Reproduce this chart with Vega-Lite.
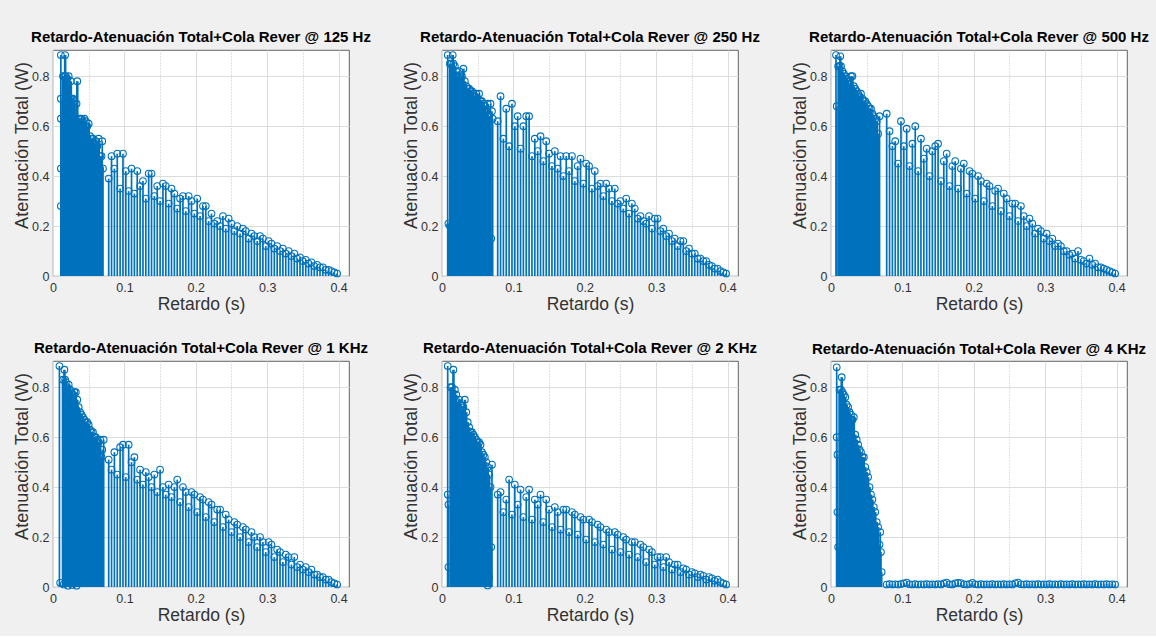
{
"$schema":"https://vega.github.io/schema/vega-lite/v6.json",
"background":"#f0f0f0",
"autosize":{"type":"pad"},
"padding":{"left":12,"top":30,"right":6,"bottom":12},
"config":{
"font":"Liberation Sans",
"view":{"fill":"white","stroke":"#3c3c3c","strokeWidth":0.8},
"title":{"fontSize":15,"fontWeight":"bold","color":"#000000","offset":4,"anchor":"middle","font":"Liberation Sans"},
"axisX":{"values":[0,0.025,0.05,0.075,0.1,0.125,0.15,0.175,0.2,0.225,0.25,0.275,0.3,0.325,0.35,0.375,0.4],"labelExpr":"round(datum.value*1000) % 100 == 0 ? (datum.value == 0 ? '0' : format(datum.value, '.1f')) : ''","labelOverlap":false,"labelFlush":false,"ticks":false,"domain":false,"grid":true,"gridColor":{"condition":{"test":"round(datum.value*1000) % 100 != 0","value":"#c4c4c4"},"value":"#dcdcdc"},"gridDash":{"condition":{"test":"round(datum.value*1000) % 100 != 0","value":[1,2]},"value":[]},"labelPadding":5,"labelFontSize":12.5,"labelColor":"#333333","titleFontSize":17.5,"titleFontWeight":"normal","titleColor":"#333333","titleY":33,"titleBaseline":"alphabetic"},
"axisY":{"values":[0,0.05,0.1,0.15,0.2,0.25,0.3,0.35,0.4,0.45,0.5,0.55,0.6,0.65,0.7,0.75,0.8,0.85],"labelExpr":"round(datum.value*100) % 10 == 0 ? (datum.value == 0 ? '0' : format(datum.value, '.1f')) : ''","labelOverlap":false,"labelFlush":false,"ticks":false,"domain":false,"grid":true,"gridColor":{"condition":{"test":"round(datum.value*100) % 10 != 0","value":"#c4c4c4"},"value":"#dcdcdc"},"gridDash":{"condition":{"test":"round(datum.value*100) % 10 != 0","value":[1,2]},"value":[]},"labelPadding":4,"labelFontSize":12.5,"labelColor":"#333333","titleFontSize":18,"titleFontWeight":"normal","titleColor":"#333333","titleX":-26,"titleY":95,"titleAngle":-90,"titleAlign":"center","titleBaseline":"alphabetic"}
},
"datasets":{"d":[
{"p":1,"x":0.011,"y":0.885},{"p":1,"x":0.011,"y":0.71},{"p":1,"x":0.011,"y":0.63},{"p":1,"x":0.011,"y":0.43},{"p":1,"x":0.011,"y":0.28},
{"p":1,"x":0.014,"y":0.80},{"p":1,"x":0.016,"y":0.80},{"p":1,"x":0.017,"y":0.885},{"p":1,"x":0.018,"y":0.80},{"p":1,"x":0.020,"y":0.79},{"p":1,"x":0.022,"y":0.80},{"p":1,"x":0.024,"y":0.71},{"p":1,"x":0.025,"y":0.78},{"p":1,"x":0.026,"y":0.71},{"p":1,"x":0.028,"y":0.71},{"p":1,"x":0.030,"y":0.70},{"p":1,"x":0.032,"y":0.63},{"p":1,"x":0.033,"y":0.69},{"p":1,"x":0.034,"y":0.78},{"p":1,"x":0.036,"y":0.63},{"p":1,"x":0.038,"y":0.63},{"p":1,"x":0.040,"y":0.63},{"p":1,"x":0.042,"y":0.62},{"p":1,"x":0.044,"y":0.63},{"p":1,"x":0.046,"y":0.62},{"p":1,"x":0.048,"y":0.60},{"p":1,"x":0.050,"y":0.61},{"p":1,"x":0.052,"y":0.56},{"p":1,"x":0.054,"y":0.55},{"p":1,"x":0.056,"y":0.55},{"p":1,"x":0.058,"y":0.53},{"p":1,"x":0.060,"y":0.54},{"p":1,"x":0.062,"y":0.52},{"p":1,"x":0.064,"y":0.55},{"p":1,"x":0.066,"y":0.48},{"p":1,"x":0.066,"y":0.43},{"p":1,"x":0.068,"y":0.48},{"p":1,"x":0.069,"y":0.54},{"p":1,"x":0.070,"y":0.43},
{"p":1,"x":0.078,"y":0.39},{"p":1,"x":0.082,"y":0.48},{"p":1,"x":0.086,"y":0.43},{"p":1,"x":0.090,"y":0.49},{"p":1,"x":0.094,"y":0.35},{"p":1,"x":0.098,"y":0.49},{"p":1,"x":0.102,"y":0.42},{"p":1,"x":0.106,"y":0.34},{"p":1,"x":0.110,"y":0.43},{"p":1,"x":0.114,"y":0.33},{"p":1,"x":0.118,"y":0.42},{"p":1,"x":0.122,"y":0.36},{"p":1,"x":0.126,"y":0.38},{"p":1,"x":0.130,"y":0.31},{"p":1,"x":0.134,"y":0.41},{"p":1,"x":0.138,"y":0.41},{"p":1,"x":0.142,"y":0.32},{"p":1,"x":0.146,"y":0.36},{"p":1,"x":0.150,"y":0.30},{"p":1,"x":0.154,"y":0.37},{"p":1,"x":0.158,"y":0.36},{"p":1,"x":0.162,"y":0.29},{"p":1,"x":0.166,"y":0.35},{"p":1,"x":0.170,"y":0.33},{"p":1,"x":0.174,"y":0.27},{"p":1,"x":0.178,"y":0.31},{"p":1,"x":0.182,"y":0.32},{"p":1,"x":0.186,"y":0.26},{"p":1,"x":0.190,"y":0.32},{"p":1,"x":0.194,"y":0.30},{"p":1,"x":0.198,"y":0.25},{"p":1,"x":0.202,"y":0.31},{"p":1,"x":0.206,"y":0.24},{"p":1,"x":0.210,"y":0.28},{"p":1,"x":0.214,"y":0.28},{"p":1,"x":0.218,"y":0.22},{"p":1,"x":0.222,"y":0.25},{"p":1,"x":0.226,"y":0.21},{"p":1,"x":0.230,"y":0.22},{"p":1,"x":0.234,"y":0.20},{"p":1,"x":0.238,"y":0.24},{"p":1,"x":0.242,"y":0.19},{"p":1,"x":0.246,"y":0.23},{"p":1,"x":0.250,"y":0.21},{"p":1,"x":0.254,"y":0.18},{"p":1,"x":0.258,"y":0.20},{"p":1,"x":0.262,"y":0.17},{"p":1,"x":0.266,"y":0.19},{"p":1,"x":0.270,"y":0.18},{"p":1,"x":0.274,"y":0.15},{"p":1,"x":0.278,"y":0.17},{"p":1,"x":0.282,"y":0.16},{"p":1,"x":0.286,"y":0.14},{"p":1,"x":0.290,"y":0.16},{"p":1,"x":0.294,"y":0.15},{"p":1,"x":0.298,"y":0.12},{"p":1,"x":0.302,"y":0.14},{"p":1,"x":0.306,"y":0.13},{"p":1,"x":0.310,"y":0.11},{"p":1,"x":0.314,"y":0.12},{"p":1,"x":0.318,"y":0.10},{"p":1,"x":0.322,"y":0.11},{"p":1,"x":0.326,"y":0.09},{"p":1,"x":0.330,"y":0.10},{"p":1,"x":0.334,"y":0.08},{"p":1,"x":0.338,"y":0.09},{"p":1,"x":0.342,"y":0.07},{"p":1,"x":0.346,"y":0.075},{"p":1,"x":0.350,"y":0.06},{"p":1,"x":0.354,"y":0.065},{"p":1,"x":0.358,"y":0.05},{"p":1,"x":0.362,"y":0.055},{"p":1,"x":0.366,"y":0.04},{"p":1,"x":0.370,"y":0.045},{"p":1,"x":0.374,"y":0.035},{"p":1,"x":0.378,"y":0.035},{"p":1,"x":0.382,"y":0.025},{"p":1,"x":0.386,"y":0.025},{"p":1,"x":0.390,"y":0.02},{"p":1,"x":0.394,"y":0.015},{"p":1,"x":0.398,"y":0.01},
{"p":2,"x":0.008,"y":0.885},{"p":2,"x":0.009,"y":0.21},{"p":2,"x":0.011,"y":0.85},{"p":2,"x":0.011,"y":0.20},{"p":2,"x":0.013,"y":0.85},{"p":2,"x":0.015,"y":0.885},{"p":2,"x":0.016,"y":0.85},{"p":2,"x":0.018,"y":0.84},{"p":2,"x":0.020,"y":0.82},{"p":2,"x":0.022,"y":0.80},{"p":2,"x":0.024,"y":0.82},{"p":2,"x":0.026,"y":0.79},{"p":2,"x":0.028,"y":0.80},{"p":2,"x":0.030,"y":0.83},{"p":2,"x":0.032,"y":0.78},{"p":2,"x":0.034,"y":0.76},{"p":2,"x":0.036,"y":0.75},{"p":2,"x":0.038,"y":0.75},{"p":2,"x":0.040,"y":0.74},{"p":2,"x":0.042,"y":0.74},{"p":2,"x":0.044,"y":0.73},{"p":2,"x":0.046,"y":0.72},{"p":2,"x":0.048,"y":0.73},{"p":2,"x":0.050,"y":0.71},{"p":2,"x":0.052,"y":0.73},{"p":2,"x":0.054,"y":0.70},{"p":2,"x":0.056,"y":0.70},{"p":2,"x":0.058,"y":0.69},{"p":2,"x":0.060,"y":0.68},{"p":2,"x":0.062,"y":0.66},{"p":2,"x":0.064,"y":0.69},{"p":2,"x":0.066,"y":0.64},{"p":2,"x":0.068,"y":0.69},{"p":2,"x":0.069,"y":0.15},{"p":2,"x":0.070,"y":0.66},{"p":2,"x":0.071,"y":0.63},
{"p":2,"x":0.078,"y":0.62},{"p":2,"x":0.082,"y":0.72},{"p":2,"x":0.086,"y":0.55},{"p":2,"x":0.090,"y":0.67},{"p":2,"x":0.094,"y":0.52},{"p":2,"x":0.098,"y":0.69},{"p":2,"x":0.102,"y":0.60},{"p":2,"x":0.106,"y":0.64},{"p":2,"x":0.110,"y":0.51},{"p":2,"x":0.114,"y":0.60},{"p":2,"x":0.118,"y":0.64},{"p":2,"x":0.122,"y":0.64},{"p":2,"x":0.126,"y":0.48},{"p":2,"x":0.130,"y":0.55},{"p":2,"x":0.134,"y":0.50},{"p":2,"x":0.138,"y":0.56},{"p":2,"x":0.142,"y":0.46},{"p":2,"x":0.146,"y":0.54},{"p":2,"x":0.150,"y":0.49},{"p":2,"x":0.154,"y":0.44},{"p":2,"x":0.158,"y":0.50},{"p":2,"x":0.162,"y":0.43},{"p":2,"x":0.166,"y":0.48},{"p":2,"x":0.170,"y":0.40},{"p":2,"x":0.174,"y":0.48},{"p":2,"x":0.178,"y":0.42},{"p":2,"x":0.182,"y":0.48},{"p":2,"x":0.186,"y":0.38},{"p":2,"x":0.190,"y":0.44},{"p":2,"x":0.194,"y":0.47},{"p":2,"x":0.198,"y":0.37},{"p":2,"x":0.202,"y":0.45},{"p":2,"x":0.206,"y":0.44},{"p":2,"x":0.210,"y":0.35},{"p":2,"x":0.214,"y":0.42},{"p":2,"x":0.218,"y":0.36},{"p":2,"x":0.222,"y":0.37},{"p":2,"x":0.226,"y":0.32},{"p":2,"x":0.230,"y":0.37},{"p":2,"x":0.234,"y":0.35},{"p":2,"x":0.238,"y":0.30},{"p":2,"x":0.242,"y":0.35},{"p":2,"x":0.246,"y":0.29},{"p":2,"x":0.250,"y":0.30},{"p":2,"x":0.254,"y":0.27},{"p":2,"x":0.258,"y":0.31},{"p":2,"x":0.262,"y":0.25},{"p":2,"x":0.266,"y":0.29},{"p":2,"x":0.270,"y":0.27},{"p":2,"x":0.274,"y":0.23},{"p":2,"x":0.278,"y":0.24},{"p":2,"x":0.282,"y":0.22},{"p":2,"x":0.286,"y":0.21},{"p":2,"x":0.290,"y":0.24},{"p":2,"x":0.294,"y":0.19},{"p":2,"x":0.298,"y":0.23},{"p":2,"x":0.302,"y":0.23},{"p":2,"x":0.306,"y":0.18},{"p":2,"x":0.310,"y":0.19},{"p":2,"x":0.314,"y":0.16},{"p":2,"x":0.318,"y":0.17},{"p":2,"x":0.322,"y":0.14},{"p":2,"x":0.326,"y":0.15},{"p":2,"x":0.330,"y":0.12},{"p":2,"x":0.334,"y":0.14},{"p":2,"x":0.338,"y":0.14},{"p":2,"x":0.342,"y":0.10},{"p":2,"x":0.346,"y":0.11},{"p":2,"x":0.350,"y":0.09},{"p":2,"x":0.354,"y":0.09},{"p":2,"x":0.358,"y":0.07},{"p":2,"x":0.362,"y":0.07},{"p":2,"x":0.366,"y":0.06},{"p":2,"x":0.370,"y":0.06},{"p":2,"x":0.374,"y":0.045},{"p":2,"x":0.378,"y":0.04},{"p":2,"x":0.382,"y":0.03},{"p":2,"x":0.386,"y":0.03},{"p":2,"x":0.390,"y":0.02},{"p":2,"x":0.394,"y":0.015},{"p":2,"x":0.398,"y":0.01},
{"p":3,"x":0.007,"y":0.885},{"p":3,"x":0.008,"y":0.68},{"p":3,"x":0.010,"y":0.84},{"p":3,"x":0.012,"y":0.84},{"p":3,"x":0.013,"y":0.88},{"p":3,"x":0.014,"y":0.84},{"p":3,"x":0.016,"y":0.82},{"p":3,"x":0.018,"y":0.81},{"p":3,"x":0.020,"y":0.80},{"p":3,"x":0.022,"y":0.79},{"p":3,"x":0.024,"y":0.78},{"p":3,"x":0.026,"y":0.77},{"p":3,"x":0.028,"y":0.80},{"p":3,"x":0.030,"y":0.80},{"p":3,"x":0.032,"y":0.76},{"p":3,"x":0.034,"y":0.75},{"p":3,"x":0.036,"y":0.74},{"p":3,"x":0.038,"y":0.73},{"p":3,"x":0.040,"y":0.72},{"p":3,"x":0.042,"y":0.73},{"p":3,"x":0.044,"y":0.71},{"p":3,"x":0.046,"y":0.70},{"p":3,"x":0.048,"y":0.70},{"p":3,"x":0.050,"y":0.69},{"p":3,"x":0.052,"y":0.68},{"p":3,"x":0.054,"y":0.67},{"p":3,"x":0.056,"y":0.67},{"p":3,"x":0.058,"y":0.65},{"p":3,"x":0.060,"y":0.64},{"p":3,"x":0.062,"y":0.63},{"p":3,"x":0.064,"y":0.62},{"p":3,"x":0.066,"y":0.57},{"p":3,"x":0.068,"y":0.64},
{"p":3,"x":0.078,"y":0.65},{"p":3,"x":0.082,"y":0.58},{"p":3,"x":0.086,"y":0.52},{"p":3,"x":0.090,"y":0.54},{"p":3,"x":0.094,"y":0.45},{"p":3,"x":0.098,"y":0.62},{"p":3,"x":0.102,"y":0.52},{"p":3,"x":0.106,"y":0.59},{"p":3,"x":0.110,"y":0.44},{"p":3,"x":0.114,"y":0.53},{"p":3,"x":0.118,"y":0.60},{"p":3,"x":0.122,"y":0.42},{"p":3,"x":0.126,"y":0.55},{"p":3,"x":0.130,"y":0.47},{"p":3,"x":0.134,"y":0.51},{"p":3,"x":0.138,"y":0.40},{"p":3,"x":0.142,"y":0.50},{"p":3,"x":0.146,"y":0.52},{"p":3,"x":0.150,"y":0.53},{"p":3,"x":0.154,"y":0.38},{"p":3,"x":0.158,"y":0.46},{"p":3,"x":0.162,"y":0.49},{"p":3,"x":0.166,"y":0.36},{"p":3,"x":0.170,"y":0.44},{"p":3,"x":0.174,"y":0.46},{"p":3,"x":0.178,"y":0.35},{"p":3,"x":0.182,"y":0.43},{"p":3,"x":0.186,"y":0.45},{"p":3,"x":0.190,"y":0.33},{"p":3,"x":0.194,"y":0.42},{"p":3,"x":0.198,"y":0.41},{"p":3,"x":0.202,"y":0.31},{"p":3,"x":0.206,"y":0.40},{"p":3,"x":0.210,"y":0.38},{"p":3,"x":0.214,"y":0.30},{"p":3,"x":0.218,"y":0.37},{"p":3,"x":0.222,"y":0.36},{"p":3,"x":0.226,"y":0.28},{"p":3,"x":0.230,"y":0.34},{"p":3,"x":0.234,"y":0.35},{"p":3,"x":0.238,"y":0.26},{"p":3,"x":0.242,"y":0.33},{"p":3,"x":0.246,"y":0.31},{"p":3,"x":0.250,"y":0.24},{"p":3,"x":0.254,"y":0.29},{"p":3,"x":0.258,"y":0.29},{"p":3,"x":0.262,"y":0.22},{"p":3,"x":0.266,"y":0.28},{"p":3,"x":0.270,"y":0.24},{"p":3,"x":0.274,"y":0.20},{"p":3,"x":0.278,"y":0.23},{"p":3,"x":0.282,"y":0.21},{"p":3,"x":0.286,"y":0.17},{"p":3,"x":0.290,"y":0.19},{"p":3,"x":0.294,"y":0.18},{"p":3,"x":0.298,"y":0.15},{"p":3,"x":0.302,"y":0.17},{"p":3,"x":0.306,"y":0.14},{"p":3,"x":0.310,"y":0.15},{"p":3,"x":0.314,"y":0.12},{"p":3,"x":0.318,"y":0.13},{"p":3,"x":0.322,"y":0.12},{"p":3,"x":0.326,"y":0.10},{"p":3,"x":0.330,"y":0.10},{"p":3,"x":0.334,"y":0.085},{"p":3,"x":0.338,"y":0.09},{"p":3,"x":0.342,"y":0.07},{"p":3,"x":0.346,"y":0.10},{"p":3,"x":0.350,"y":0.065},{"p":3,"x":0.354,"y":0.06},{"p":3,"x":0.358,"y":0.05},{"p":3,"x":0.362,"y":0.07},{"p":3,"x":0.366,"y":0.045},{"p":3,"x":0.370,"y":0.05},{"p":3,"x":0.374,"y":0.035},{"p":3,"x":0.378,"y":0.035},{"p":3,"x":0.382,"y":0.03},{"p":3,"x":0.386,"y":0.025},{"p":3,"x":0.390,"y":0.02},{"p":3,"x":0.394,"y":0.015},{"p":3,"x":0.398,"y":0.01},
{"p":4,"x":0.009,"y":0.885},{"p":4,"x":0.010,"y":0.017},{"p":4,"x":0.014,"y":0.83},{"p":4,"x":0.015,"y":0.01},{"p":4,"x":0.016,"y":0.87},{"p":4,"x":0.017,"y":0.83},{"p":4,"x":0.018,"y":0.82},{"p":4,"x":0.020,"y":0.80},{"p":4,"x":0.021,"y":0.005},{"p":4,"x":0.022,"y":0.81},{"p":4,"x":0.024,"y":0.79},{"p":4,"x":0.026,"y":0.78},{"p":4,"x":0.027,"y":0.008},{"p":4,"x":0.028,"y":0.77},{"p":4,"x":0.030,"y":0.78},{"p":4,"x":0.031,"y":0.72},{"p":4,"x":0.032,"y":0.78},{"p":4,"x":0.033,"y":0.005},{"p":4,"x":0.034,"y":0.75},{"p":4,"x":0.036,"y":0.72},{"p":4,"x":0.038,"y":0.70},{"p":4,"x":0.040,"y":0.69},{"p":4,"x":0.042,"y":0.68},{"p":4,"x":0.044,"y":0.67},{"p":4,"x":0.046,"y":0.66},{"p":4,"x":0.048,"y":0.66},{"p":4,"x":0.050,"y":0.65},{"p":4,"x":0.052,"y":0.63},{"p":4,"x":0.054,"y":0.62},{"p":4,"x":0.056,"y":0.62},{"p":4,"x":0.058,"y":0.60},{"p":4,"x":0.060,"y":0.60},{"p":4,"x":0.062,"y":0.59},{"p":4,"x":0.064,"y":0.58},{"p":4,"x":0.066,"y":0.59},{"p":4,"x":0.068,"y":0.52},{"p":4,"x":0.069,"y":0.55},{"p":4,"x":0.071,"y":0.59},
{"p":4,"x":0.078,"y":0.51},{"p":4,"x":0.082,"y":0.47},{"p":4,"x":0.086,"y":0.54},{"p":4,"x":0.090,"y":0.45},{"p":4,"x":0.094,"y":0.56},{"p":4,"x":0.098,"y":0.57},{"p":4,"x":0.102,"y":0.44},{"p":4,"x":0.106,"y":0.57},{"p":4,"x":0.110,"y":0.50},{"p":4,"x":0.114,"y":0.52},{"p":4,"x":0.118,"y":0.43},{"p":4,"x":0.122,"y":0.47},{"p":4,"x":0.126,"y":0.41},{"p":4,"x":0.130,"y":0.46},{"p":4,"x":0.134,"y":0.44},{"p":4,"x":0.138,"y":0.40},{"p":4,"x":0.142,"y":0.45},{"p":4,"x":0.146,"y":0.38},{"p":4,"x":0.150,"y":0.47},{"p":4,"x":0.154,"y":0.40},{"p":4,"x":0.158,"y":0.37},{"p":4,"x":0.162,"y":0.41},{"p":4,"x":0.166,"y":0.36},{"p":4,"x":0.170,"y":0.40},{"p":4,"x":0.174,"y":0.43},{"p":4,"x":0.178,"y":0.34},{"p":4,"x":0.182,"y":0.40},{"p":4,"x":0.186,"y":0.38},{"p":4,"x":0.190,"y":0.32},{"p":4,"x":0.194,"y":0.38},{"p":4,"x":0.198,"y":0.37},{"p":4,"x":0.202,"y":0.30},{"p":4,"x":0.206,"y":0.36},{"p":4,"x":0.210,"y":0.35},{"p":4,"x":0.214,"y":0.28},{"p":4,"x":0.218,"y":0.34},{"p":4,"x":0.222,"y":0.33},{"p":4,"x":0.226,"y":0.26},{"p":4,"x":0.230,"y":0.31},{"p":4,"x":0.234,"y":0.31},{"p":4,"x":0.238,"y":0.24},{"p":4,"x":0.242,"y":0.29},{"p":4,"x":0.246,"y":0.27},{"p":4,"x":0.250,"y":0.22},{"p":4,"x":0.254,"y":0.26},{"p":4,"x":0.258,"y":0.25},{"p":4,"x":0.262,"y":0.20},{"p":4,"x":0.266,"y":0.24},{"p":4,"x":0.270,"y":0.23},{"p":4,"x":0.274,"y":0.18},{"p":4,"x":0.278,"y":0.22},{"p":4,"x":0.282,"y":0.20},{"p":4,"x":0.286,"y":0.16},{"p":4,"x":0.290,"y":0.20},{"p":4,"x":0.294,"y":0.18},{"p":4,"x":0.298,"y":0.14},{"p":4,"x":0.302,"y":0.18},{"p":4,"x":0.306,"y":0.17},{"p":4,"x":0.310,"y":0.12},{"p":4,"x":0.314,"y":0.15},{"p":4,"x":0.318,"y":0.14},{"p":4,"x":0.322,"y":0.10},{"p":4,"x":0.326,"y":0.13},{"p":4,"x":0.330,"y":0.12},{"p":4,"x":0.334,"y":0.09},{"p":4,"x":0.338,"y":0.12},{"p":4,"x":0.342,"y":0.08},{"p":4,"x":0.346,"y":0.09},{"p":4,"x":0.350,"y":0.07},{"p":4,"x":0.354,"y":0.08},{"p":4,"x":0.358,"y":0.06},{"p":4,"x":0.362,"y":0.07},{"p":4,"x":0.366,"y":0.05},{"p":4,"x":0.370,"y":0.05},{"p":4,"x":0.374,"y":0.04},{"p":4,"x":0.378,"y":0.04},{"p":4,"x":0.382,"y":0.03},{"p":4,"x":0.386,"y":0.03},{"p":4,"x":0.390,"y":0.02},{"p":4,"x":0.394,"y":0.015},{"p":4,"x":0.398,"y":0.01},
{"p":5,"x":0.008,"y":0.885},{"p":5,"x":0.008,"y":0.37},{"p":5,"x":0.009,"y":0.33},{"p":5,"x":0.009,"y":0.08},{"p":5,"x":0.012,"y":0.80},{"p":5,"x":0.014,"y":0.80},{"p":5,"x":0.016,"y":0.87},{"p":5,"x":0.018,"y":0.79},{"p":5,"x":0.020,"y":0.77},{"p":5,"x":0.022,"y":0.74},{"p":5,"x":0.024,"y":0.75},{"p":5,"x":0.026,"y":0.73},{"p":5,"x":0.028,"y":0.71},{"p":5,"x":0.030,"y":0.72},{"p":5,"x":0.032,"y":0.75},{"p":5,"x":0.034,"y":0.70},{"p":5,"x":0.036,"y":0.66},{"p":5,"x":0.038,"y":0.64},{"p":5,"x":0.040,"y":0.62},{"p":5,"x":0.042,"y":0.62},{"p":5,"x":0.044,"y":0.61},{"p":5,"x":0.046,"y":0.60},{"p":5,"x":0.048,"y":0.59},{"p":5,"x":0.050,"y":0.58},{"p":5,"x":0.052,"y":0.58},{"p":5,"x":0.054,"y":0.57},{"p":5,"x":0.056,"y":0.54},{"p":5,"x":0.058,"y":0.53},{"p":5,"x":0.060,"y":0.52},{"p":5,"x":0.062,"y":0.50},{"p":5,"x":0.064,"y":0.48},{"p":5,"x":0.064,"y":0.006},{"p":5,"x":0.066,"y":0.45},{"p":5,"x":0.066,"y":0.04},{"p":5,"x":0.068,"y":0.40},{"p":5,"x":0.069,"y":0.16},{"p":5,"x":0.070,"y":0.49},
{"p":5,"x":0.078,"y":0.37},{"p":5,"x":0.082,"y":0.38},{"p":5,"x":0.086,"y":0.30},{"p":5,"x":0.090,"y":0.35},{"p":5,"x":0.094,"y":0.43},{"p":5,"x":0.098,"y":0.29},{"p":5,"x":0.102,"y":0.41},{"p":5,"x":0.106,"y":0.33},{"p":5,"x":0.110,"y":0.39},{"p":5,"x":0.114,"y":0.28},{"p":5,"x":0.118,"y":0.36},{"p":5,"x":0.122,"y":0.39},{"p":5,"x":0.126,"y":0.27},{"p":5,"x":0.130,"y":0.35},{"p":5,"x":0.134,"y":0.33},{"p":5,"x":0.138,"y":0.37},{"p":5,"x":0.142,"y":0.26},{"p":5,"x":0.146,"y":0.35},{"p":5,"x":0.150,"y":0.31},{"p":5,"x":0.154,"y":0.24},{"p":5,"x":0.158,"y":0.32},{"p":5,"x":0.162,"y":0.30},{"p":5,"x":0.166,"y":0.23},{"p":5,"x":0.170,"y":0.31},{"p":5,"x":0.174,"y":0.31},{"p":5,"x":0.178,"y":0.22},{"p":5,"x":0.182,"y":0.30},{"p":5,"x":0.186,"y":0.29},{"p":5,"x":0.190,"y":0.21},{"p":5,"x":0.194,"y":0.28},{"p":5,"x":0.198,"y":0.27},{"p":5,"x":0.202,"y":0.19},{"p":5,"x":0.206,"y":0.27},{"p":5,"x":0.210,"y":0.26},{"p":5,"x":0.214,"y":0.18},{"p":5,"x":0.218,"y":0.25},{"p":5,"x":0.222,"y":0.24},{"p":5,"x":0.226,"y":0.17},{"p":5,"x":0.230,"y":0.23},{"p":5,"x":0.234,"y":0.22},{"p":5,"x":0.238,"y":0.15},{"p":5,"x":0.242,"y":0.22},{"p":5,"x":0.246,"y":0.21},{"p":5,"x":0.250,"y":0.14},{"p":5,"x":0.254,"y":0.20},{"p":5,"x":0.258,"y":0.19},{"p":5,"x":0.262,"y":0.13},{"p":5,"x":0.266,"y":0.18},{"p":5,"x":0.270,"y":0.18},{"p":5,"x":0.274,"y":0.12},{"p":5,"x":0.278,"y":0.17},{"p":5,"x":0.282,"y":0.16},{"p":5,"x":0.286,"y":0.10},{"p":5,"x":0.290,"y":0.15},{"p":5,"x":0.294,"y":0.14},{"p":5,"x":0.298,"y":0.09},{"p":5,"x":0.302,"y":0.12},{"p":5,"x":0.306,"y":0.12},{"p":5,"x":0.310,"y":0.08},{"p":5,"x":0.314,"y":0.12},{"p":5,"x":0.318,"y":0.10},{"p":5,"x":0.322,"y":0.07},{"p":5,"x":0.326,"y":0.09},{"p":5,"x":0.330,"y":0.09},{"p":5,"x":0.334,"y":0.06},{"p":5,"x":0.338,"y":0.075},{"p":5,"x":0.342,"y":0.07},{"p":5,"x":0.346,"y":0.05},{"p":5,"x":0.350,"y":0.06},{"p":5,"x":0.354,"y":0.055},{"p":5,"x":0.358,"y":0.04},{"p":5,"x":0.362,"y":0.05},{"p":5,"x":0.366,"y":0.045},{"p":5,"x":0.370,"y":0.03},{"p":5,"x":0.374,"y":0.04},{"p":5,"x":0.378,"y":0.035},{"p":5,"x":0.382,"y":0.025},{"p":5,"x":0.386,"y":0.03},{"p":5,"x":0.390,"y":0.02},{"p":5,"x":0.394,"y":0.015},{"p":5,"x":0.398,"y":0.01},
{"p":6,"x":0.008,"y":0.88},{"p":6,"x":0.008,"y":0.60},{"p":6,"x":0.009,"y":0.53},{"p":6,"x":0.009,"y":0.30},{"p":6,"x":0.010,"y":0.16},{"p":6,"x":0.012,"y":0.79},{"p":6,"x":0.014,"y":0.79},{"p":6,"x":0.015,"y":0.84},{"p":6,"x":0.016,"y":0.78},{"p":6,"x":0.018,"y":0.77},{"p":6,"x":0.020,"y":0.76},{"p":6,"x":0.022,"y":0.73},{"p":6,"x":0.024,"y":0.72},{"p":6,"x":0.026,"y":0.70},{"p":6,"x":0.028,"y":0.69},{"p":6,"x":0.030,"y":0.67},{"p":6,"x":0.032,"y":0.68},{"p":6,"x":0.034,"y":0.61},{"p":6,"x":0.036,"y":0.59},{"p":6,"x":0.038,"y":0.57},{"p":6,"x":0.040,"y":0.55},{"p":6,"x":0.042,"y":0.54},{"p":6,"x":0.044,"y":0.52},{"p":6,"x":0.046,"y":0.52},{"p":6,"x":0.048,"y":0.48},{"p":6,"x":0.050,"y":0.46},{"p":6,"x":0.052,"y":0.44},{"p":6,"x":0.054,"y":0.40},{"p":6,"x":0.056,"y":0.37},{"p":6,"x":0.058,"y":0.35},{"p":6,"x":0.060,"y":0.32},{"p":6,"x":0.062,"y":0.30},{"p":6,"x":0.064,"y":0.26},{"p":6,"x":0.066,"y":0.24},{"p":6,"x":0.068,"y":0.17},{"p":6,"x":0.069,"y":0.22},{"p":6,"x":0.070,"y":0.14},{"p":6,"x":0.071,"y":0.06},
{"p":6,"x":0.078,"y":0.010},{"p":6,"x":0.082,"y":0.012},{"p":6,"x":0.086,"y":0.010},{"p":6,"x":0.090,"y":0.011},{"p":6,"x":0.094,"y":0.010},{"p":6,"x":0.098,"y":0.012},{"p":6,"x":0.102,"y":0.015},{"p":6,"x":0.106,"y":0.018},{"p":6,"x":0.110,"y":0.011},{"p":6,"x":0.114,"y":0.010},{"p":6,"x":0.118,"y":0.012},{"p":6,"x":0.122,"y":0.010},{"p":6,"x":0.126,"y":0.011},{"p":6,"x":0.130,"y":0.010},{"p":6,"x":0.134,"y":0.012},{"p":6,"x":0.138,"y":0.010},{"p":6,"x":0.142,"y":0.011},{"p":6,"x":0.146,"y":0.010},{"p":6,"x":0.150,"y":0.012},{"p":6,"x":0.154,"y":0.010},{"p":6,"x":0.158,"y":0.015},{"p":6,"x":0.162,"y":0.018},{"p":6,"x":0.166,"y":0.011},{"p":6,"x":0.170,"y":0.010},{"p":6,"x":0.174,"y":0.015},{"p":6,"x":0.178,"y":0.017},{"p":6,"x":0.182,"y":0.016},{"p":6,"x":0.186,"y":0.011},{"p":6,"x":0.190,"y":0.010},{"p":6,"x":0.194,"y":0.012},{"p":6,"x":0.198,"y":0.017},{"p":6,"x":0.202,"y":0.011},{"p":6,"x":0.206,"y":0.010},{"p":6,"x":0.210,"y":0.012},{"p":6,"x":0.214,"y":0.010},{"p":6,"x":0.218,"y":0.011},{"p":6,"x":0.222,"y":0.010},{"p":6,"x":0.226,"y":0.012},{"p":6,"x":0.230,"y":0.010},{"p":6,"x":0.234,"y":0.011},{"p":6,"x":0.238,"y":0.010},{"p":6,"x":0.242,"y":0.012},{"p":6,"x":0.246,"y":0.010},{"p":6,"x":0.250,"y":0.011},{"p":6,"x":0.254,"y":0.010},{"p":6,"x":0.258,"y":0.015},{"p":6,"x":0.262,"y":0.018},{"p":6,"x":0.266,"y":0.011},{"p":6,"x":0.270,"y":0.010},{"p":6,"x":0.274,"y":0.012},{"p":6,"x":0.278,"y":0.010},{"p":6,"x":0.282,"y":0.011},{"p":6,"x":0.286,"y":0.010},{"p":6,"x":0.290,"y":0.012},{"p":6,"x":0.294,"y":0.010},{"p":6,"x":0.298,"y":0.011},{"p":6,"x":0.302,"y":0.010},{"p":6,"x":0.306,"y":0.012},{"p":6,"x":0.310,"y":0.010},{"p":6,"x":0.314,"y":0.011},{"p":6,"x":0.318,"y":0.010},{"p":6,"x":0.322,"y":0.012},{"p":6,"x":0.326,"y":0.010},{"p":6,"x":0.330,"y":0.011},{"p":6,"x":0.334,"y":0.010},{"p":6,"x":0.338,"y":0.012},{"p":6,"x":0.342,"y":0.010},{"p":6,"x":0.346,"y":0.011},{"p":6,"x":0.350,"y":0.010},{"p":6,"x":0.354,"y":0.012},{"p":6,"x":0.358,"y":0.010},{"p":6,"x":0.362,"y":0.011},{"p":6,"x":0.366,"y":0.010},{"p":6,"x":0.370,"y":0.012},{"p":6,"x":0.374,"y":0.010},{"p":6,"x":0.378,"y":0.011},{"p":6,"x":0.382,"y":0.010},{"p":6,"x":0.386,"y":0.012},{"p":6,"x":0.390,"y":0.010},{"p":6,"x":0.394,"y":0.011},{"p":6,"x":0.398,"y":0.010}
]},
"columns":3,
"spacing":{"row":85,"column":93},
"bounds":"flush",
"concat":[
{"title":"Retardo-Atenuación Total+Cola Rever @ 125 Hz","width":296,"height":226,"data":{"name":"d"},"transform":[{"filter":"datum.p == 1"}],
"encoding":{"x":{"field":"x","type":"quantitative","scale":{"domain":[0,0.4146],"nice":false,"zero":false},"axis":{"title":"Retardo (s)"}},"y":{"field":"y","type":"quantitative","scale":{"domain":[0,0.905],"nice":false,"zero":false},"axis":{"title":"Atenuación Total (W)"}}},
"layer":[{"mark":{"type":"rule","color":"#0072BD"},"encoding":{"y2":{"datum":0},"strokeWidth":{"condition":{"test":"datum.x >= 0.012 && datum.x <= 0.0665","value":2.6},"value":1.7}}},{"mark":{"type":"point","shape":"circle","filled":false,"size":44,"strokeWidth":1.1,"opacity":1,"color":"#0072BD"}}]},
{"title":"Retardo-Atenuación Total+Cola Rever @ 250 Hz","width":296,"height":226,"data":{"name":"d"},"transform":[{"filter":"datum.p == 2"}],
"encoding":{"x":{"field":"x","type":"quantitative","scale":{"domain":[0,0.4146],"nice":false,"zero":false},"axis":{"title":"Retardo (s)"}},"y":{"field":"y","type":"quantitative","scale":{"domain":[0,0.905],"nice":false,"zero":false},"axis":{"title":"Atenuación Total (W)"}}},
"layer":[{"mark":{"type":"rule","color":"#0072BD"},"encoding":{"y2":{"datum":0},"strokeWidth":{"condition":{"test":"datum.x >= 0.012 && datum.x <= 0.0665","value":2.6},"value":1.7}}},{"mark":{"type":"point","shape":"circle","filled":false,"size":44,"strokeWidth":1.1,"opacity":1,"color":"#0072BD"}}]},
{"title":"Retardo-Atenuación Total+Cola Rever @ 500 Hz","width":296,"height":226,"data":{"name":"d"},"transform":[{"filter":"datum.p == 3"}],
"encoding":{"x":{"field":"x","type":"quantitative","scale":{"domain":[0,0.4146],"nice":false,"zero":false},"axis":{"title":"Retardo (s)"}},"y":{"field":"y","type":"quantitative","scale":{"domain":[0,0.905],"nice":false,"zero":false},"axis":{"title":"Atenuación Total (W)"}}},
"layer":[{"mark":{"type":"rule","color":"#0072BD"},"encoding":{"y2":{"datum":0},"strokeWidth":{"condition":{"test":"datum.x >= 0.012 && datum.x <= 0.0665","value":2.6},"value":1.7}}},{"mark":{"type":"point","shape":"circle","filled":false,"size":44,"strokeWidth":1.1,"opacity":1,"color":"#0072BD"}}]},
{"title":"Retardo-Atenuación Total+Cola Rever @ 1 KHz","width":296,"height":226,"data":{"name":"d"},"transform":[{"filter":"datum.p == 4"}],
"encoding":{"x":{"field":"x","type":"quantitative","scale":{"domain":[0,0.4146],"nice":false,"zero":false},"axis":{"title":"Retardo (s)"}},"y":{"field":"y","type":"quantitative","scale":{"domain":[0,0.905],"nice":false,"zero":false},"axis":{"title":"Atenuación Total (W)"}}},
"layer":[{"mark":{"type":"rule","color":"#0072BD"},"encoding":{"y2":{"datum":0},"strokeWidth":{"condition":{"test":"datum.x >= 0.012 && datum.x <= 0.0665","value":2.6},"value":1.7}}},{"mark":{"type":"point","shape":"circle","filled":false,"size":44,"strokeWidth":1.1,"opacity":1,"color":"#0072BD"}}]},
{"title":"Retardo-Atenuación Total+Cola Rever @ 2 KHz","width":296,"height":226,"data":{"name":"d"},"transform":[{"filter":"datum.p == 5"}],
"encoding":{"x":{"field":"x","type":"quantitative","scale":{"domain":[0,0.4146],"nice":false,"zero":false},"axis":{"title":"Retardo (s)"}},"y":{"field":"y","type":"quantitative","scale":{"domain":[0,0.905],"nice":false,"zero":false},"axis":{"title":"Atenuación Total (W)"}}},
"layer":[{"mark":{"type":"rule","color":"#0072BD"},"encoding":{"y2":{"datum":0},"strokeWidth":{"condition":{"test":"datum.x >= 0.012 && datum.x <= 0.0665","value":2.6},"value":1.7}}},{"mark":{"type":"point","shape":"circle","filled":false,"size":44,"strokeWidth":1.1,"opacity":1,"color":"#0072BD"}}]},
{"title":"Retardo-Atenuación Total+Cola Rever @ 4 KHz","width":296,"height":226,"data":{"name":"d"},"transform":[{"filter":"datum.p == 6"}],
"encoding":{"x":{"field":"x","type":"quantitative","scale":{"domain":[0,0.4146],"nice":false,"zero":false},"axis":{"title":"Retardo (s)"}},"y":{"field":"y","type":"quantitative","scale":{"domain":[0,0.905],"nice":false,"zero":false},"axis":{"title":"Atenuación Total (W)"}}},
"layer":[{"mark":{"type":"rule","color":"#0072BD"},"encoding":{"y2":{"datum":0},"strokeWidth":{"condition":{"test":"datum.x >= 0.012 && datum.x <= 0.0665","value":2.6},"value":1.7}}},{"mark":{"type":"point","shape":"circle","filled":false,"size":44,"strokeWidth":1.1,"opacity":1,"color":"#0072BD"}}]}
]
}
